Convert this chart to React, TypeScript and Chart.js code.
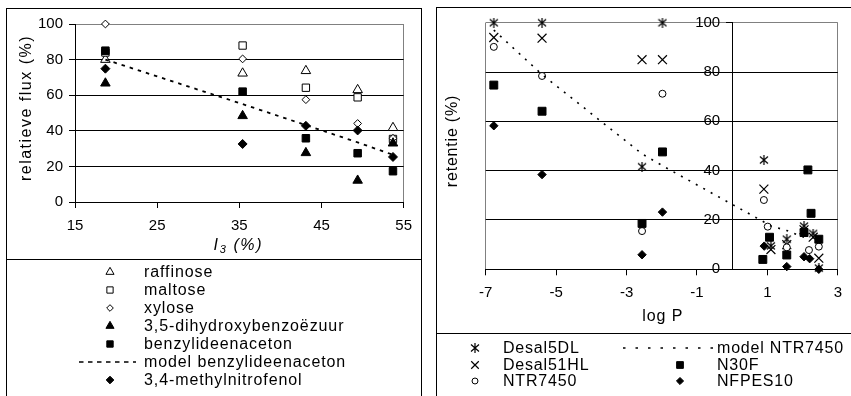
import React, { useEffect, useRef } from 'react';
import { Chart, registerables } from 'chart.js';
import { drawPoint } from 'chart.js/helpers';

Chart.register(...registerables);

const FONT = "'Liberation Sans', Arial, Helvetica, sans-serif";

// ---------- Left chart: relatieve flux (%) vs I3 (%) ----------
const fluxX = [18.7, 35.4, 43.1, 49.4, 53.7];
const raffinoseY = [80, 72.3, 73.7, 63, 41.7];
const maltoseY = [84, 87.9, 64.2, 58.8, 35.4];
const xyloseY = [100, 80.4, 57.5, 44.1, 35.8];
const dihydroxyY = [66.7, 48.4, 27.6, 12.1, 33];
const benzylY = [85, 62, 35.8, 27.4, 17.3];
const modelBenzylY = [80, 55, 43.2, 33.5, 26.5];
const methylnitroY = [74.9, 32.6, 42.8, 40.2, 25.3];
const fluxXAxis = [15, 55, 10]; // min, max, step
const fluxYAxis = [0, 100, 20];
const leftLabels = [
  'raffinose',
  'maltose',
  'xylose',
  '3,5-dihydroxybenzoëzuur',
  'benzylideenaceton',
  'model benzylideenaceton',
  '3,4-methylnitrofenol',
];

// ---------- Right chart: retentie (%) vs log P ----------
const desal5dlX = [-6.77, -5.4, -2.56, -1.98, 0.9, 1.1, 1.55, 2.04, 2.3, 2.46];
const desal5dlY = [100, 100, 41.6, 100, 44.3, 9.5, 12.2, 17.5, 14.5, 0.5];
const desal51hlX = [-6.77, -5.4, -2.56, -1.98, 0.9, 1.1, 1.55, 2.04, 2.3, 2.46];
const desal51hlY = [94, 93.7, 85, 85, 32.5, 8, 10, 16, 13, 4.5];
const ntr7450X = [-6.77, -5.4, -2.56, -1.98, 0.9, 1.01, 1.55, 2.18, 2.46];
const ntr7450Y = [90.2, 78.4, 15.5, 71.2, 28.1, 17.3, 8.9, 7.8, 9.2];
const modelNtrX = [-6.77, -5.4, -2.56, -1.98, 0.9, 1.04, 1.55, 2.04];
const modelNtrY = [97, 79, 46.8, 42, 19.2, 17.8, 15.7, 13];
const n30fX = [-6.77, -5.4, -2.56, -1.98, 0.87, 1.06, 1.55, 2.04, 2.15, 2.24, 2.46];
const n30fY = [74.7, 64.1, 18.6, 47.6, 4, 13, 5.8, 14.9, 40.3, 22.7, 12.2];
const nfpes10X = [-6.77, -5.4, -2.56, -1.98, 0.91, 1.55, 2.04, 2.2, 2.46];
const nfpes10Y = [58.2, 38.4, 5.9, 23.2, 9.4, 1.1, 5.1, 4.3, 0];
const logPAxis = [-7, 3, 2];
const retYAxis = [0, 100, 20];
const rightLabels = ['Desal5DL', 'Desal51HL', 'NTR7450', 'model NTR7450', 'N30F', 'NFPES10'];

const pts = (xs: number[], ys: number[]) => xs.map((x, i) => ({ x, y: ys[i] }));

function makeAsterisk(): HTMLCanvasElement {
  const c = document.createElement('canvas');
  c.width = 10;
  c.height = 10;
  const g = c.getContext('2d')!;
  g.strokeStyle = '#000';
  g.lineWidth = 1.2;
  g.beginPath();
  g.moveTo(1, 1.5); g.lineTo(9, 8.5);
  g.moveTo(9, 1.5); g.lineTo(1, 8.5);
  g.moveTo(5, 0); g.lineTo(5, 10);
  g.stroke();
  return c;
}

function spacing(ctx: any, px: number) {
  try { ctx.letterSpacing = px + 'px'; } catch (e) { /* ignore */ }
}

function markerDs(label: string, data: any[], style: any, radius: number, filled: boolean, order: number, bw = 1) {
  return {
    label,
    data,
    pointStyle: style,
    pointRadius: radius,
    pointHoverRadius: radius,
    pointBackgroundColor: filled ? '#000' : '#fff',
    pointBorderColor: '#000',
    pointBorderWidth: bw,
    backgroundColor: filled ? '#000' : '#fff',
    borderColor: '#000',
    showLine: false,
    clip: false,
    order,
  };
}

function lineDs(label: string, data: any[], dash: number[], width: number, order: number) {
  return {
    label,
    data,
    showLine: true,
    pointRadius: 0,
    pointHoverRadius: 0,
    borderColor: '#000',
    borderWidth: width,
    borderDash: dash,
    fill: false,
    tension: 0,
    clip: false,
    order,
  };
}

function drawLegendSymbol(ctx: CanvasRenderingContext2D, ds: any, x: number, y: number, lx1: number, lx2: number, dash: number[]) {
  ctx.save();
  if (ds.showLine) {
    ctx.strokeStyle = '#000';
    ctx.lineWidth = 1.5;
    ctx.setLineDash(dash);
    ctx.beginPath();
    ctx.moveTo(lx1, y);
    ctx.lineTo(lx2, y);
    ctx.stroke();
  } else {
    ctx.fillStyle = ds.pointBackgroundColor;
    ctx.strokeStyle = '#000';
    ctx.lineWidth = ds.pointBorderWidth;
    drawPoint(ctx, { pointStyle: ds.pointStyle, radius: ds.pointRadius * 0.85, rotation: 0, borderWidth: ds.pointBorderWidth } as any, x, y);
  }
  ctx.restore();
}

function leftConfig(): any {
  const datasets = [
    markerDs(leftLabels[0], pts(fluxX, raffinoseY), 'triangle', 5.5, false, 0),
    markerDs(leftLabels[1], pts(fluxX, maltoseY), 'rect', 5.2, false, -1),
    markerDs(leftLabels[2], pts(fluxX, xyloseY), 'rectRot', 3.9, false, -2),
    markerDs(leftLabels[3], pts(fluxX, dihydroxyY), 'triangle', 5.5, true, -3),
    markerDs(leftLabels[4], pts(fluxX, benzylY), 'rect', 5.3, true, -4),
    lineDs(leftLabels[5], pts(fluxX, modelBenzylY), [3.5, 5], 1.8, -5),
    markerDs(leftLabels[6], pts(fluxX, methylnitroY), 'rectRot', 4.5, true, -6),
  ];
  const decor = {
    id: 'leftDecor',
    afterDraw(chart: any) {
      const ctx: CanvasRenderingContext2D = chart.ctx;
      const a = chart.chartArea;
      ctx.save();
      ctx.fillStyle = '#000';
      // y title
      ctx.save();
      ctx.translate(20, (a.top + a.bottom) / 2 - 5);
      ctx.rotate(-Math.PI / 2);
      ctx.font = `16px ${FONT}`;
      spacing(ctx, 1.5);
      ctx.textAlign = 'center';
      ctx.textBaseline = 'middle';
      ctx.fillText('relatieve flux (%)', 0, 0);
      ctx.restore();
      // x title: I3 (%)
      ctx.save();
      spacing(ctx, 1.6);
      ctx.textBaseline = 'alphabetic';
      ctx.textAlign = 'left';
      const big = `italic 16px ${FONT}`;
      const small = `italic 11px ${FONT}`;
      ctx.font = big;
      const w1 = ctx.measureText('I').width;
      const w3 = ctx.measureText(' (%)').width;
      ctx.font = small;
      const w2 = ctx.measureText('3').width;
      const cx = (a.left + a.right) / 2 - 1;
      let x = cx - (w1 + w2 + w3) / 2;
      const base = 240.5;
      ctx.font = big;
      ctx.fillText('I', x, base);
      x += w1;
      ctx.font = small;
      ctx.fillText('3', x, base + 3);
      x += w2;
      ctx.font = big;
      ctx.fillText(' (%)', x, base);
      ctx.restore();
      // legend
      ctx.font = `16px ${FONT}`;
      spacing(ctx, 0.9);
      ctx.textAlign = 'left';
      ctx.textBaseline = 'middle';
      datasets.forEach((ds: any, i: number) => {
        const y = 263 + 18 * i;
        drawLegendSymbol(ctx, ds, 103, y, 72, 129, [4.5, 4.5]);
        ctx.fillText(ds.label, 137, y + 1);
      });
      ctx.restore();
    },
  };
  return {
    type: 'scatter',
    data: { datasets },
    options: {
      animation: false,
      responsive: false,
      maintainAspectRatio: false,
      devicePixelRatio: 1,
      layout: { padding: { left: 0, top: 14, right: 11, bottom: 0 } },
      plugins: { legend: { display: false }, tooltip: { enabled: false }, title: { display: false } },
      scales: {
        x: {
          type: 'linear',
          min: fluxXAxis[0],
          max: fluxXAxis[1],
          afterFit: (s: any) => { s.height = 194; },
          ticks: { stepSize: fluxXAxis[2], color: '#000', font: { family: FONT, size: 15 }, padding: 9, maxRotation: 0 },
          grid: {
            color: (c: any) => (c.tick && c.tick.value === fluxXAxis[1] ? '#808080' : 'rgba(0,0,0,0)'),
            tickColor: '#000',
            tickLength: 6,
            lineWidth: 1,
          },
          border: { display: true, color: '#000', width: 1 },
        },
        y: {
          type: 'linear',
          min: fluxYAxis[0],
          max: fluxYAxis[1],
          afterFit: (s: any) => { s.width = 68; },
          ticks: { stepSize: fluxYAxis[2], color: '#000', font: { family: FONT, size: 15 }, padding: 6 },
          grid: {
            color: (c: any) =>
              c.tick && c.tick.value === fluxYAxis[1] ? '#808080' : c.tick && c.tick.value === fluxYAxis[0] ? 'rgba(0,0,0,0)' : '#000',
            tickColor: '#000',
            tickLength: 6,
            lineWidth: 1,
          },
          border: { display: true, color: '#000', width: 1 },
        },
      },
    },
    plugins: [decor],
  };
}

function rightConfig(): any {
  const star = makeAsterisk();
  const datasets = [
    markerDs(rightLabels[0], pts(desal5dlX, desal5dlY), star, 5, false, 0, 1),
    markerDs(rightLabels[1], pts(desal51hlX, desal51hlY), 'crossRot', 6.3, false, -1, 1.2),
    markerDs(rightLabels[2], pts(ntr7450X, ntr7450Y), 'circle', 3.5, false, -2),
    lineDs(rightLabels[3], pts(modelNtrX, modelNtrY), [2, 6.5], 1.6, -3),
    markerDs(rightLabels[4], pts(n30fX, n30fY), 'rect', 5.6, true, -4),
    markerDs(rightLabels[5], pts(nfpes10X, nfpes10Y), 'rectRot', 4.2, true, -5),
  ];
  const legendPos = [
    [38, 66, 340],
    [38, 66, 357],
    [38, 66, 373],
    [243, 280, 340],
    [243, 280, 357],
    [243, 280, 373],
  ];
  const decor = {
    id: 'rightDecor',
    afterDraw(chart: any) {
      const ctx: CanvasRenderingContext2D = chart.ctx;
      const a = chart.chartArea;
      const xs = chart.scales.x;
      const ys = chart.scales.y;
      ctx.save();
      ctx.fillStyle = '#000';
      // y tick labels beside the axis crossing at x = 0
      const ax = xs.getPixelForValue(0);
      ctx.font = `15px ${FONT}`;
      ctx.textAlign = 'right';
      ctx.textBaseline = 'middle';
      ys.ticks.forEach((t: any) => {
        ctx.fillText(String(t.value), ax - 12, ys.getPixelForValue(t.value));
      });
      // y title
      ctx.save();
      ctx.translate(16, (a.top + a.bottom) / 2 - 5);
      ctx.rotate(-Math.PI / 2);
      ctx.font = `16px ${FONT}`;
      spacing(ctx, 0.8);
      ctx.textAlign = 'center';
      ctx.textBaseline = 'middle';
      ctx.fillText('retentie (%)', 0, 0);
      ctx.restore();
      // x title
      ctx.font = `16px ${FONT}`;
      spacing(ctx, 0.9);
      ctx.textAlign = 'center';
      ctx.textBaseline = 'middle';
      ctx.fillText('log P', (a.left + a.right) / 2 + 1, 308.5);
      // legend
      ctx.textAlign = 'left';
      spacing(ctx, 0.8);
      datasets.forEach((ds: any, i: number) => {
        const [sx, tx, y] = legendPos[i];
        if (typeof ds.pointStyle === 'object') {
          ctx.drawImage(ds.pointStyle, sx - 5, y - 5);
        } else {
          drawLegendSymbol(ctx, ds, sx, y, 186, 276, [2.5, 10]);
        }
        ctx.fillText(ds.label, tx, y + 1);
      });
      ctx.restore();
    },
  };
  return {
    type: 'scatter',
    data: { datasets },
    options: {
      animation: false,
      responsive: false,
      maintainAspectRatio: false,
      devicePixelRatio: 1,
      layout: { padding: { left: 48.7, top: 14.7, right: 8.3, bottom: 0 } },
      plugins: { legend: { display: false }, tooltip: { enabled: false }, title: { display: false } },
      scales: {
        x: {
          type: 'linear',
          position: 'bottom',
          min: logPAxis[0],
          max: logPAxis[1],
          afterFit: (s: any) => { s.height = 126.7; },
          ticks: { stepSize: logPAxis[2], color: '#000', font: { family: FONT, size: 15 }, padding: 9, maxRotation: 0 },
          grid: {
            color: (c: any) =>
              c.tick && (c.tick.value === logPAxis[0] || c.tick.value === logPAxis[1]) ? '#808080' : 'rgba(0,0,0,0)',
            tickColor: '#000',
            tickLength: 6,
            lineWidth: 1,
          },
          border: { display: true, color: '#000', width: 1 },
        },
        y: {
          type: 'linear',
          position: { x: 0 },
          min: retYAxis[0],
          max: retYAxis[1],
          ticks: { stepSize: retYAxis[2], display: false },
          grid: {
            color: (c: any) =>
              c.tick && c.tick.value === retYAxis[1] ? '#808080' : c.tick && c.tick.value === retYAxis[0] ? 'rgba(0,0,0,0)' : '#000',
            tickColor: '#000',
            tickLength: 6,
            lineWidth: 1,
          },
          border: { display: true, color: '#000', width: 1 },
        },
      },
    },
    plugins: [decor],
  };
}

function ChartCanvas({ make, left, top, w, h }: { make: () => any; left: number; top: number; w: number; h: number }) {
  const ref = useRef<HTMLCanvasElement>(null);
  useEffect(() => {
    const chart = new Chart(ref.current as HTMLCanvasElement, make());
    return () => chart.destroy();
  }, []);
  return (
    <canvas
      ref={ref}
      width={w}
      height={h}
      style={{ position: 'absolute', left, top, width: w, height: h }}
    />
  );
}

export default function App() {
  const line = (l: number, t: number, w: number, h: number) => (
    <div style={{ position: 'absolute', left: l, top: t, width: w, height: h, background: '#000' }} />
  );
  return (
    <div style={{ position: 'fixed', left: 0, top: 0, width: 851, height: 396, background: '#fff', overflow: 'hidden' }}>
      <ChartCanvas make={leftConfig} left={7} top={9} w={414} h={387} />
      <ChartCanvas make={rightConfig} left={437} top={8} w={414} h={388} />
      {line(6, 8, 416, 1)}
      {line(6, 8, 1, 400)}
      {line(421, 8, 1, 400)}
      {line(6, 259, 416, 1)}
      {line(436, 7, 420, 1)}
      {line(436, 7, 1, 400)}
      {line(436, 333, 420, 1)}
    </div>
  );
}
